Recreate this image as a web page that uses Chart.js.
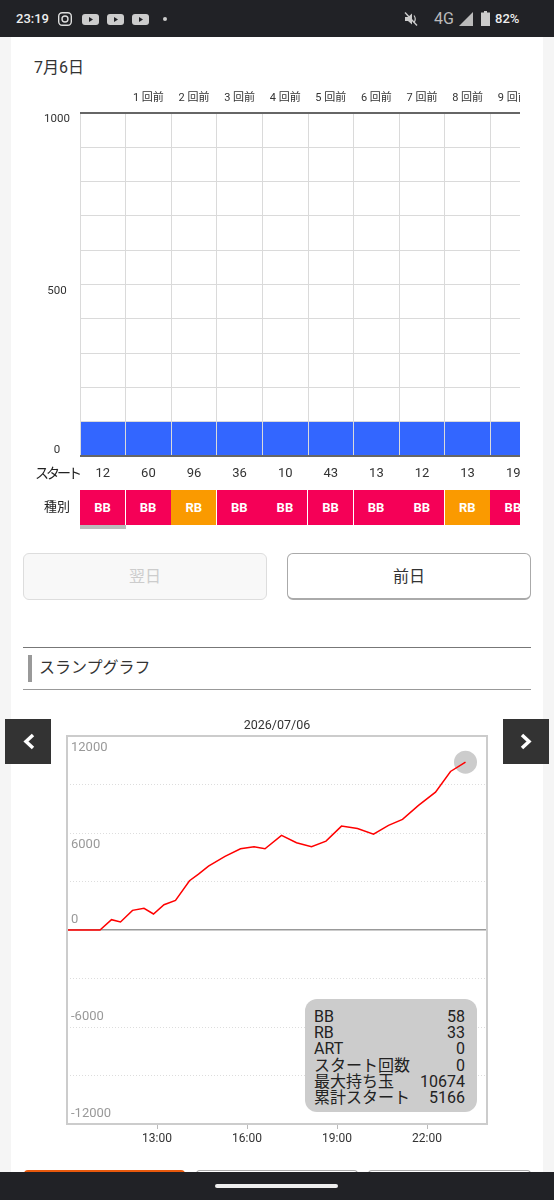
<!DOCTYPE html>
<html lang="ja">
<head>
<meta charset="utf-8">
<title>スランプグラフ</title>
<script src="https://cdn.jsdelivr.net/npm/chart.js@4"></script>
<style>
html, body { margin: 0; padding: 0; }
body { width: 554px; height: 1200px; position: relative; overflow: hidden; background: #f5f5f5;
  font-family: Roboto, "Noto Sans CJK JP", sans-serif; color: #333; }
.abs { position: absolute; }
#panel { left: 11px; top: 0; width: 532px; height: 1200px; background: #fff; }
#statusbar { left: 0; top: 0; width: 554px; height: 37px; background: #212226; color: #eee; }
#statusbar span { position: absolute; top: 11px; font-size: 13px; line-height: 16px; }
#bottombar { left: 0; top: 1172px; width: 554px; height: 28px; background: #212226; }
#pill { left: 215px; top: 12px; width: 123px; height: 4px; border-radius: 2px; background: #eee; }
#barwrap { left: 30px; top: 85px; width: 490px; height: 395px; overflow: hidden; }
#typerow { left: 80px; top: 490px; width: 440px; height: 35px; overflow: hidden; }
.cell { position: absolute; top: 0; height: 35px; line-height: 35px; width: 45px; text-align: center;
  color: #fff; font-size: 13px; font-weight: 700; }
.btn { box-sizing: border-box; top: 553px; width: 244px; height: 47px; border-radius: 6px; text-align: center;
  line-height: 45px; font-size: 16px; }
.nav { top: 719px; width: 46px; height: 45px; background: #333; }
#stats { left: 305px; top: 999px; width: 172px; height: 113px; border-radius: 12px; background: #ccc; }
.stat { position: absolute; left: 9px; right: 12px; height: 16px; line-height: 16px; font-size: 16px; color: #222;
  white-space: nowrap; }
.stat b { font-weight: 400; position: absolute; right: 0; top: 0; }
</style>
</head>
<body>
<div id="panel" class="abs"></div>

<div id="statusbar" class="abs">
  <span style="left:16px;font-weight:500">23:19</span>
  <svg class="abs" style="left:56px;top:11px" width="100" height="16" viewBox="0 0 100 16">
    <rect x="2.700" y="1.700" width="12.600" height="12.600" rx="3.500" fill="none" stroke="#ddd" stroke-width="1.400"/>
    <circle cx="9" cy="8" r="3" fill="none" stroke="#ddd" stroke-width="1.400"/>
    <rect x="26" y="3" width="17" height="11" rx="3" fill="#ccc"/><path d="M33 6l4 2.500-4 2.500z" fill="#212226"/>
    <rect x="51" y="3" width="17" height="11" rx="3" fill="#ccc"/><path d="M58 6l4 2.500-4 2.500z" fill="#212226"/>
    <rect x="76" y="3" width="17" height="11" rx="3" fill="#ccc"/><path d="M83 6l4 2.500-4 2.500z" fill="#212226"/>
  </svg>
  <svg class="abs" style="left:162px;top:16px" width="6" height="6"><circle cx="3" cy="3" r="2" fill="#ccc"/></svg>
  <svg class="abs" style="left:403px;top:11px" width="16" height="16" viewBox="0 0 16 16">
    <path d="M2 6h3l4-3.500v11L5 10H2z" fill="#ccc"/><path d="M11 4.500q2.500 3.500 0 7" fill="none" stroke="#ccc" stroke-width="1.200"/>
    <path d="M2 1.500l12 13" stroke="#ccc" stroke-width="1.400"/>
  </svg>
  <span style="left:434px;color:#bbb;font-size:16px">4G</span>
  <svg class="abs" style="left:459px;top:12px" width="15" height="14"><path d="M14 0v14H0z" fill="#bbb"/></svg>
  <svg class="abs" style="left:481px;top:11px" width="9" height="15"><path d="M3 0h3v1.500h3V15H0V1.500h3z" fill="#ccc"/></svg>
  <span style="left:495px;font-weight:500">82%</span>
</div>

<div class="abs" style="left:34px;top:58px;font-size:16px;line-height:20px">7月6日</div>

<div id="barwrap" class="abs"><canvas id="barChart" width="510" height="395"></canvas></div>
<div class="abs" style="left:35px;top:464px;font-size:14px;line-height:18px;color:#222;letter-spacing:-3px">スタート</div>
<div class="abs" style="left:44px;top:498px;font-size:13px;line-height:18px;color:#222">種別</div>
<div id="typerow" class="abs"></div>
<div class="abs" style="left:80px;top:525px;width:46px;height:4px;background:#bbb"></div>

<div class="abs btn" style="left:23px;border:1px solid #ddd;background:#f8f8f8;color:#ccc">翌日</div>
<div class="abs btn" style="left:287px;border:1px solid #aaa;border-bottom-width:2px;background:#fff;color:#333">前日</div>

<div class="abs" style="left:23px;top:647px;width:508px;height:1px;background:#777"></div>
<div class="abs" style="left:23px;top:689px;width:508px;height:1px;background:#999"></div>
<div class="abs" style="left:28px;top:655px;width:4px;height:27px;background:#999"></div>
<div class="abs" style="left:39px;top:658px;font-size:16px;line-height:20px;color:#333">スランプグラフ</div>

<div class="abs nav" style="left:5px">
  <svg width="46" height="45"><path d="M28 16l-7 6.500 7 6.500" fill="none" stroke="#fff" stroke-width="3.500"/></svg>
</div>
<div class="abs nav" style="left:503px">
  <svg width="46" height="45"><path d="M19 16l7 6.500-7 6.500" fill="none" stroke="#fff" stroke-width="3.500"/></svg>
</div>

<canvas id="slumpChart" class="abs" style="left:54px;top:716px" width="446" height="434"></canvas>
<div id="stats" class="abs"></div>

<div class="abs" style="left:24px;top:1170px;width:161px;height:4px;background:#e8590c;border-radius:6px 6px 0 0"></div>
<div class="abs" style="left:196px;top:1170px;width:162px;height:4px;border:1px solid #aaa;border-bottom:0;box-sizing:border-box;border-radius:6px 6px 0 0"></div>
<div class="abs" style="left:368px;top:1170px;width:163px;height:4px;border:1px solid #aaa;border-bottom:0;box-sizing:border-box;border-radius:6px 6px 0 0"></div>
<div id="bottombar" class="abs"><div id="pill" class="abs"></div></div>

<script>
// 上の棒グラフ
const roundLabels = ['', '1 回前', '2 回前', '3 回前', '4 回前', '5 回前', '6 回前', '7 回前', '8 回前', '9 回前'];
const barValues = [100, 100, 100, 100, 100, 100, 100, 100, 100, 100];
const startCounts = ['12', '60', '96', '36', '10', '43', '13', '12', '13', '19'];
const hitTypes = ['BB', 'BB', 'RB', 'BB', 'BB', 'BB', 'BB', 'BB', 'RB', 'BB'];
const barTicks = [1000, 500, 0];

// スランプグラフ
const slumpMinutes = [600, 666, 689, 707, 731, 754, 773, 794, 817, 845, 863, 883, 916, 947, 974, 996, 1029, 1059, 1089, 1118, 1149, 1181, 1213, 1243, 1271, 1303, 1337, 1367, 1397];
const slumpValues = [0, 0, 639, 494, 1215, 1339, 989, 1566, 1833, 3049, 3461, 3955, 4553, 5026, 5150, 5026, 5850, 5397, 5150, 5500, 6427, 6283, 5933, 6468, 6839, 7704, 8528, 9806, 10382];
const slumpTicks = [12000, 6000, 0, -6000, -12000];
const timeTicks = [780, 960, 1140, 1320];
const statLabels = ['BB', 'RB', 'ART', 'スタート回数', '最大持ち玉', '累計スタート'];
const statValues = [58, 33, 0, 0, 10674, 5166];

const typeColors = { BB: '#f50057', RB: '#fa9a00' };

hitTypes.forEach((t, i) => {
  const cell = document.createElement('div');
  cell.className = 'cell';
  cell.style.left = (i * 45.6) + 'px';
  cell.style.background = typeColors[t];
  cell.textContent = t;
  document.getElementById('typerow').appendChild(cell);
});

statLabels.forEach((label, i) => {
  const row = document.createElement('div');
  row.className = 'stat';
  row.style.top = (10 + i * 16.2) + 'px';
  row.innerHTML = label + '<b>' + statValues[i] + '</b>';
  document.getElementById('stats').appendChild(row);
});

// 目盛りラベルは線の上下にずらして描く
function yLabelPlugin(values, font, color, align, pos, offset) {
  return {
    id: 'yLabels',
    afterDatasetsDraw(chart) {
      const ctx = chart.ctx;
      const y = chart.scales.y;
      ctx.save();
      ctx.font = font;
      ctx.fillStyle = color;
      ctx.textAlign = align;
      ctx.textBaseline = 'middle';
      values.forEach(v => {
        ctx.fillText(String(v), pos, y.getPixelForValue(v) + offset(v));
      });
      ctx.restore();
    }
  };
}

const frame = {
  id: 'frame',
  afterDraw(chart) {
    const a = chart.chartArea;
    chart.ctx.save();
    chart.ctx.strokeStyle = '#ccc';
    chart.ctx.lineWidth = 2;
    chart.ctx.strokeRect(a.left, a.top, a.width, a.height);
    chart.ctx.restore();
  }
};

new Chart(document.getElementById('barChart'), {
  type: 'bar',
  data: {
    labels: roundLabels,
    datasets: [{ data: barValues, backgroundColor: '#3366ff', barPercentage: 1, categoryPercentage: 1 }]
  },
  options: {
    responsive: false,
    animation: false,
    layout: { padding: { left: 50, right: 4 } },
    plugins: { legend: { display: false }, tooltip: { enabled: false } },
    scales: {
      x: {
        position: 'top',
        afterFit(s) { s.height = 28; },
        grid: { color: '#dadada', lineWidth: 1, drawTicks: false, z: 1 },
        border: { display: false },
        ticks: { autoSkip: false, maxRotation: 0, padding: 8, color: '#333', font: { size: 11, family: 'Roboto, "Noto Sans CJK JP"' } }
      },
      x2: {
        type: 'category',
        position: 'bottom',
        labels: startCounts,
        afterFit(s) { s.height = 24; },
        grid: { display: false, drawTicks: false },
        border: { display: false },
        ticks: { autoSkip: false, maxRotation: 0, padding: 10, color: '#333', font: { size: 13, family: 'Roboto' } }
      },
      y: {
        min: 0,
        max: 1000,
        afterFit(s) { s.width = 0; },
        ticks: { display: false, stepSize: 100, autoSkip: false },
        border: { display: false },
        grid: {
          drawTicks: false,
          z: 1,
          color: c => (c.tick.value === 1000 || c.tick.value === 0) ? '#666' : '#dadada',
          lineWidth: c => (c.tick.value === 1000 || c.tick.value === 0) ? 2 : 1
        }
      }
    }
  },
  plugins: [yLabelPlugin(barTicks, '11.5px Roboto', '#333', 'center', 27, v => v > 0 ? 6.500 : -5.500)]
});

new Chart(document.getElementById('slumpChart'), {
  type: 'line',
  data: {
    datasets: [
      {
        data: slumpMinutes.map((m, i) => ({ x: m, y: slumpValues[i] })),
        borderColor: '#ff0000',
        borderWidth: 1.500,
        pointRadius: 0,
        tension: 0,
        order: 1
      },
      {
        data: [{ x: slumpMinutes[slumpMinutes.length - 1], y: slumpValues[slumpValues.length - 1] }],
        pointRadius: 11.500,
        pointBackgroundColor: '#ccc',
        pointBorderWidth: 0,
        showLine: false,
        order: 2
      }
    ]
  },
  options: {
    responsive: false,
    animation: false,
    layout: { padding: { left: 13, right: 13 } },
    plugins: {
      legend: { display: false },
      tooltip: { enabled: false },
      title: {
        display: true,
        text: '2026/07/06',
        color: '#333',
        font: { size: 12.500, weight: 'normal', family: 'Roboto' },
        padding: { top: 2, bottom: 3 }
      }
    },
    scales: {
      x: {
        type: 'linear',
        min: 600,
        max: 1440,
        afterFit(s) { s.height = 26; },
        afterBuildTicks(s) { s.ticks = timeTicks.map(v => ({ value: v })); },
        grid: { drawOnChartArea: false, tickLength: 5, color: '#bbb' },
        border: { display: false },
        ticks: {
          autoSkip: false,
          maxRotation: 0,
          padding: 3,
          color: '#333',
          font: { size: 12, family: 'Roboto' },
          callback: v => (v / 60) + ':00'
        }
      },
      y: {
        min: -12000,
        max: 12000,
        afterFit(s) { s.width = 0; },
        ticks: { display: false, stepSize: 3000, autoSkip: false },
        border: { display: false, dash: c => c.tick.value === 0 ? [] : [1, 2] },
        grid: {
          drawTicks: false,
          color: c => c.tick.value === 0 ? '#999' : '#ddd',
          lineWidth: c => c.tick.value === 0 ? 1.500 : 1
        }
      }
    }
  },
  plugins: [frame, yLabelPlugin(slumpTicks, '13px Roboto', '#999', 'left', 17, v => v > 0 ? 12 : -10.500)]
});
</script>
</body>
</html>
